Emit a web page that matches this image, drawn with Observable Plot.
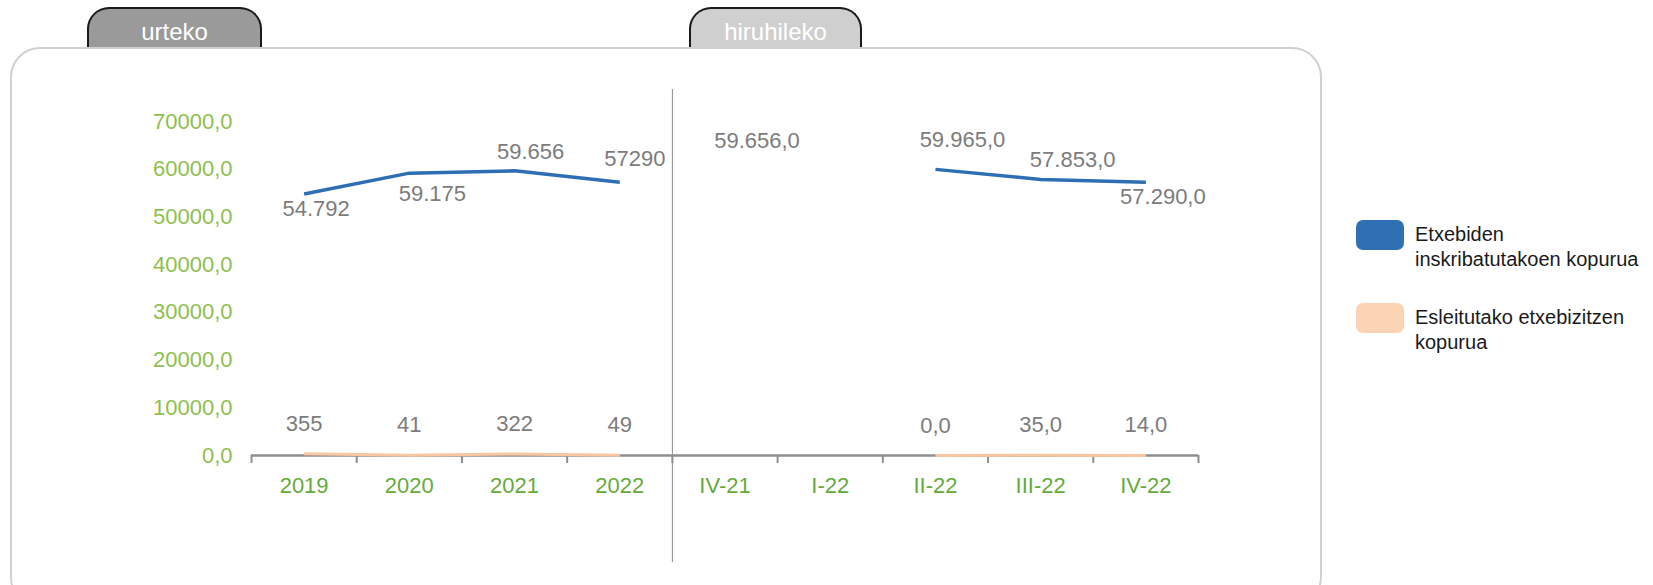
<!DOCTYPE html>
<html>
<head>
<meta charset="utf-8">
<script src="https://cdn.jsdelivr.net/npm/d3@7"></script>
<script src="https://cdn.jsdelivr.net/npm/@observablehq/plot@0.6"></script>
<style>
  html, body { margin: 0; padding: 0; background: #fff; width: 1653px; height: 585px; overflow: hidden; }
  body { font-family: "Liberation Sans", Arial, sans-serif; }
  #stage { position: relative; width: 1653px; height: 585px; overflow: hidden; }
  .panel { position: absolute; left: 10px; top: 47px; width: 1312px; height: 560px; border: 2px solid #d0d0d0; border-radius: 30px; box-sizing: border-box; background: #fff; }
  .tab { position: absolute; top: 7px; height: 41px; border: 2px solid #1a1a1a; border-bottom: none; border-radius: 22px 22px 0 0; box-sizing: border-box; color: #fff; font-size: 24px; text-align: center; line-height: 45px; overflow: visible; }
  .tab.urteko { left: 87px; width: 175px; background: #9a9a9a; }
  .tab.hiru { left: 689px; width: 173px; background: #cfcfcf; }
  #chart { position: absolute; left: 0; top: 0; }
  .legend { position: absolute; left: 1356px; font-size: 20px; color: #1a1a1a; line-height: 25px; }
  .legend .sw { position: absolute; left: 0; width: 48px; height: 30px; border-radius: 7px; }
  .legend .tx { position: absolute; left: 59px; white-space: nowrap; }
</style>
</head>
<body>
<div id="stage">
  <div class="tab urteko">urteko</div>
  <div class="tab hiru">hiruhileko</div>
  <div class="panel"></div>
  <div id="chart"></div>
  <div id="legend"></div>
</div>
<script>
// ---- data ----
const categories = ["2019", "2020", "2021", "2022", "IV-21", "I-22", "II-22", "III-22", "IV-22"];
const groups = ["urteko", "urteko", "urteko", "urteko", "hiruhileko", "hiruhileko", "hiruhileko", "hiruhileko", "hiruhileko"];
const inscribed = [54792, 59175, 59656, 57290, 59656, null, 59965, 57853, 57290];
const inscribedLabels = ["54.792", "59.175", "59.656", "57290", "59.656,0", null, "59.965,0", "57.853,0", "57.290,0"];
const assigned = [355, 41, 322, 49, null, null, 0, 35, 14];
const assignedLabels = ["355", "41", "322", "49", null, null, "0,0", "35,0", "14,0"];
const yTicks = [0, 10000, 20000, 30000, 40000, 50000, 60000, 70000];
const yTickLabels = ["0,0", "10000,0", "20000,0", "30000,0", "40000,0", "50000,0", "60000,0", "70000,0"];
const seriesNames = ["Etxebiden inskribatutakoen kopurua", "Esleitutako etxebizitzen kopurua"];
const legendLines = [["Etxebiden", "inskribatutakoen kopurua"], ["Esleitutako etxebizitzen", "kopurua"]];

// ---- styles / placement ----
const BLUE = "#2e6eb4";
const ORANGE = "#f8c6a1";
const LABEL = "#7c7c7c";
const YTICK = "#8fc04e";
const XTICK = "#66aa3c";
// per-label nudges [dx, dy] for the blue labels
const blueNudge = [[12, 15], [23, 21], [16, -19], [15, -23], [32, -30], [0, 0], [27, -29], [32, -20], [17, 15]];

const rows = categories.map((c, i) => ({
  cat: c, group: groups[i], pos: i + 0.5,
  v1: inscribed[i], l1: inscribedLabels[i],
  v2: assigned[i], l2: assignedLabels[i]
}));

const blueLabelMarks = rows
  .map((r, i) => ({r, i}))
  .filter(({r}) => r.l1 != null)
  .map(({r, i}) => Plot.text([r], {
    x: "pos", y: "v1", text: "l1",
    dx: blueNudge[i][0], dy: blueNudge[i][1],
    fill: LABEL, fontSize: 22
  }));

const chart = Plot.plot({
  width: 1653,
  height: 585,
  marginLeft: 251,
  marginRight: 455,
  marginTop: 121,
  marginBottom: 130,
  style: { background: "transparent", fontFamily: "'Liberation Sans', Arial, sans-serif", overflow: "visible" },
  x: { type: "linear", domain: [0, categories.length] },
  y: { domain: [0, 70000] },
  marks: [
    // divider between annual and quarterly sections
    Plot.ruleX([groups.indexOf("hiruhileko")], { stroke: "#8a8a8a", strokeWidth: 1, insetTop: -32, insetBottom: -107 }),
    // y axis labels
    Plot.axisY({ ticks: yTicks, tickFormat: (d, i) => yTickLabels[i], tickSize: 0, tickPadding: 19, fontSize: 22, fill: YTICK, label: null }),
    // x axis baseline
    Plot.ruleY([0], { stroke: "#8e8e8e", strokeWidth: 2.5 }),
    // x tick marks at category boundaries
    Plot.axisX({ ticks: d3.range(categories.length + 1), tickSize: 8, tickFormat: () => "", stroke: "#8e8e8e", strokeWidth: 2, label: null }),
    // x category labels
    Plot.axisX({ ticks: rows.map(r => r.pos), tickFormat: d => categories[Math.floor(d)], tickSize: 0, tickPadding: 22, fontSize: 22, fill: XTICK, label: null }),
    // lines
    Plot.line(rows, { x: "pos", y: "v2", z: "group", stroke: ORANGE, strokeWidth: 3, strokeLinecap: "butt" }),
    Plot.line(rows, { x: "pos", y: "v1", z: "group", stroke: BLUE, strokeWidth: 3.5, strokeLinecap: "butt" }),
    // labels
    Plot.text(rows.filter(r => r.l2 != null), { x: "pos", y: "v2", text: "l2", dy: -30, fill: LABEL, fontSize: 22 }),
    ...blueLabelMarks
  ]
});
document.getElementById("chart").appendChild(chart);

// legend
const legend = document.getElementById("legend");
const legendColors = ["#2f70b5", "#fbd3b5"];
const legendTops = [220, 303];
seriesNames.forEach((name, i) => {
  const item = document.createElement("div");
  item.className = "legend";
  item.style.top = legendTops[i] + "px";
  item.title = name;
  const sw = document.createElement("div");
  sw.className = "sw";
  sw.style.background = legendColors[i];
  sw.style.top = "0px";
  const tx = document.createElement("div");
  tx.className = "tx";
  tx.style.top = "2px";
  tx.innerHTML = legendLines[i].join("<br>");
  item.appendChild(sw);
  item.appendChild(tx);
  legend.appendChild(item);
});
</script>
</body>
</html>
